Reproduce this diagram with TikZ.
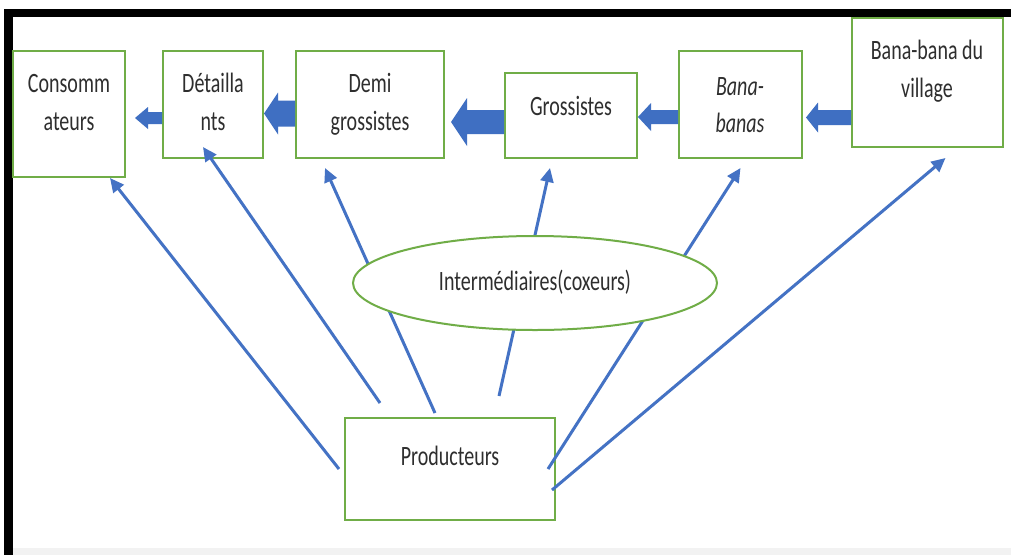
\documentclass[tikz,border=0pt]{standalone}
\usepackage{fontspec}
\setmainfont{Carlito}
\usepackage{graphicx}
\usetikzlibrary{arrows.meta,calc,shapes.geometric}
\definecolor{boxgreen}{HTML}{70AD47}
\definecolor{arrblue}{HTML}{4472C4}
\definecolor{blockblue}{HTML}{3F6FC2}
\definecolor{txtgray}{HTML}{2E2E2E}
\definecolor{stripgray}{HTML}{F2F2F2}
\newcommand\tx[1]{\scalebox{1}[1.4]{\begin{tabular}{@{}c@{}}#1\end{tabular}}}
\newcommand\blockarr[7]{%
  \path ($(#2.east |- 0,#3)+(#7,0)$) coordinate (tip#2);
  \fill[blockblue] (tip#2) -- ++(#4,-#5) -- ++(0,#5-#6) -- (#1.west |- 0,#3-#6)
    -- (#1.west |- 0,#3+#6) -- ($(tip#2)+(#4,#6)$) -- ++(0,#5-#6) -- cycle;}
\begin{document}
\begin{tikzpicture}[x=1pt,y=-1pt,
  box/.style={draw=boxgreen,line width=2pt,fill=white,inner sep=0pt},
  lbl/.style={text=txtgray,font=\fontsize{20}{27}\selectfont,inner sep=0pt},
  conn/.style={draw=arrblue,line width=3pt,-{Triangle[length=14pt,width=13pt]}}]
% canvas
\useasboundingbox (0,0) rectangle (1011,555);
\fill[white] (0,0) rectangle (1011,555);
\fill[stripgray] (13,548) rectangle (1011,555);
\fill[black] (4,9) rectangle (1011,17);
\fill[black] (4,9) rectangle (13,555);
% boxes
\node[box,minimum width=112pt,minimum height=126pt] (cons) at (69,114) {};
\node[box,minimum width=100pt,minimum height=107pt] (det) at (213,104.5) {};
\node[box,minimum width=148pt,minimum height=107pt] (demi) at (370,104.5) {};
\node[box,minimum width=132pt,minimum height=85pt] (gros) at (571,115.5) {};
\node[box,minimum width=123pt,minimum height=107pt] (bana) at (740.5,104.5) {};
\node[box,minimum width=151pt,minimum height=129pt] (vill) at (927.5,82.5) {};
\node[box,minimum width=210pt,minimum height=102pt] (prod) at (450,469) {};
% box labels
\node[lbl] (consT) at (69,104) {\tx{Consomm\\ateurs}};
\node[lbl] (detT) at (213,104) {\tx{Détailla\\nts}};
\node[lbl] (demiT) at (370,104) {\tx{Demi\\grossistes}};
\node[lbl] (grosT) at (571,108) {\tx{Grossistes}};
\node[lbl] (banaT) at (740,106.5) {\tx{\itshape Bana-\\\itshape banas}};
\node[lbl] (villT) at (927,71) {\tx{Bana-bana du\\village}};
\node[lbl] (prodT) at (450,458) {\tx{Producteurs}};
% block arrows
\blockarr{det}{cons}{118}{13}{11}{6}{9}
\blockarr{demi}{det}{113.5}{14}{21}{13}{0}
\blockarr{gros}{demi}{122}{16}{24}{12}{6}
\blockarr{bana}{gros}{117}{13}{14}{7}{0}
\blockarr{vill}{bana}{117.5}{12}{15}{7.5}{3}
% connector ends
\coordinate (s1) at ($(prod.west)+(-5,0)$);
\coordinate (s2) at ($(prod.north)+(-70,-14)$);
\coordinate (s3) at ($(prod.north)+(-15,-4)$);
\coordinate (s4) at ($(prod.north)+(49,-21)$);
\coordinate (s5) at ($(prod.east)+(-8,0)$);
\coordinate (s6) at ($(prod.east)+(-4,21)$);
\coordinate (t1) at ($(cons.south)+(41,0)$);
\coordinate (t2) at ($(det.south)+(-10,-12)$);
\coordinate (t3) at ($(demi.south)+(-45,9)$);
\coordinate (t4) at ($(gros.south)+(-21,9)$);
\coordinate (t5) at ($(bana.south)+(0,9)$);
\coordinate (t6) at ($(vill.south)+(18,10)$);
\draw[conn] (s1) -- (t1);
\draw[conn] (s2) -- (t2);
\draw[conn] (s3) -- (t3);
\draw[conn] (s4) -- (t4);
\draw[conn] (s5) -- (t5);
\draw[conn] (s6) -- (t6);
% ellipse on top
\node[ellipse,draw=boxgreen,line width=2pt,fill=white,inner sep=0pt,
      minimum width=364pt,minimum height=94pt,lbl,draw=boxgreen] (inter) at (535,283)
      {\tx{Intermédiaires(coxeurs)}};
\end{tikzpicture}
\end{document}
